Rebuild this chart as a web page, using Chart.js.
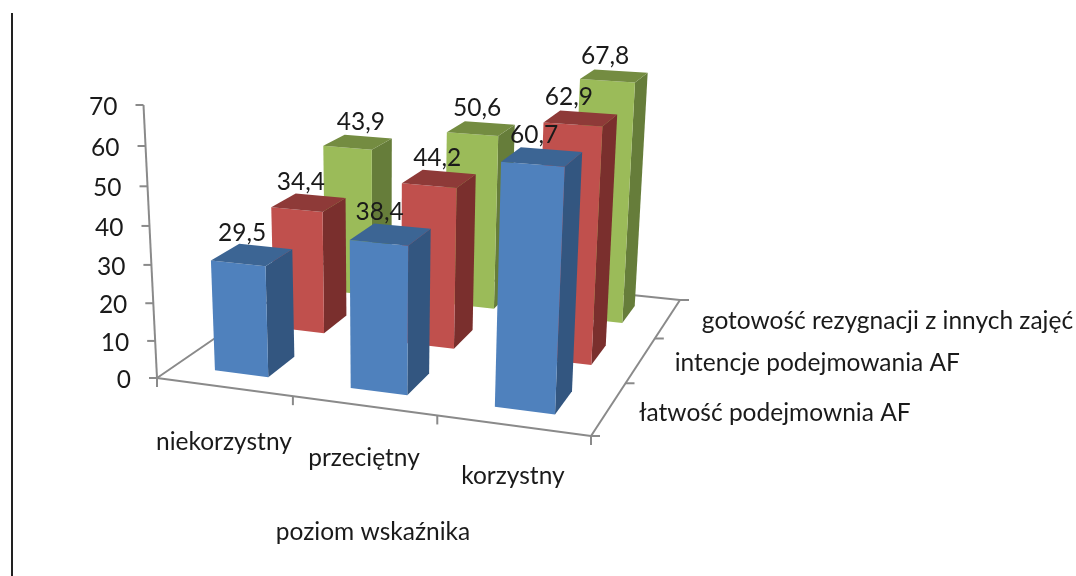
<!DOCTYPE html>
<html lang="pl">
<head>
<meta charset="utf-8">
<title>poziom wskaźnika</title>
<script src="https://cdn.jsdelivr.net/npm/chart.js@4"></script>
<style>
  body { margin: 0; background: #fff; }
  #wrap { position: relative; width: 1076px; height: 576px; overflow: hidden; }
  #rule { position: absolute; left: 11px; top: 13px; width: 2px; height: 563px; background: #222; }
  canvas { display: block; }
</style>
</head>
<body>
<div id="wrap">
  <canvas id="chart" width="1076" height="576"></canvas>
  <div id="rule"></div>
</div>
<script>
const categories = ["niekorzystny", "przeciętny", "korzystny"];
const seriesNames = ["łatwość podejmownia AF", "intencje podejmowania AF", "gotowość rezygnacji z innych zajęć"];
const latwosc = [29.5, 38.4, 60.7];
const intencje = [34.4, 44.2, 62.9];
const gotowosc = [43.9, 50.6, 67.8];
const axisTitle = "poziom wskaźnika";

const faces = [
  { front: "#4f81bd", side: "#335680", top: "#3c6594" },
  { front: "#c0504d", side: "#7a2f2d", top: "#8e3a38" },
  { front: "#9bbb59", side: "#667d3a", top: "#748c41" },
];
// excel nudged its labels around, so these are by eye
const seriesLabelDx = [30, 34, 34];
const seriesLabelDy = [5, 3, 3];
const categoryLabelDy = [55, 52, 51];
const valueLabelDx = [[-10, -11, -8], [-8, -2, -12], [3, -4, -9]];
const valueLabelDy = [-22, -21, -20];
const FONT = "24.5px Lato";
const AXIS = "#8a8a8a";
const DEPTH = 1.12;

// floor corners of the 3d box and top of the value axis, in page pixels
const O = [157, 378], U = [591, 436], UV = [680, 300], V = [324.5, 263], TOP = [143.5, 105];
const cz = -0.057;

function makeProjection() {
  const dx1 = U[0] - UV[0], dx2 = V[0] - UV[0], sx = O[0] - U[0] + UV[0] - V[0];
  const dy1 = U[1] - UV[1], dy2 = V[1] - UV[1], sy = O[1] - U[1] + UV[1] - V[1];
  const det = dx1 * dy2 - dx2 * dy1;
  const g = (sx * dy2 - dx2 * sy) / det;
  const k = (dx1 * sy - sx * dy1) / det;
  const a = U[0] - O[0] + g * U[0], b = V[0] - O[0] + k * V[0];
  const d = U[1] - O[1] + g * U[1], e = V[1] - O[1] + k * V[1];
  const az = TOP[0] * (1 + cz) - O[0], bz = TOP[1] * (1 + cz) - O[1];
  return (u, v, h) => {
    const w = g * u + k * v + cz * h + 1;
    return [(a * u + b * v + az * h + O[0]) / w, (d * u + e * v + bz * h + O[1]) / w];
  };
}
const project = makeProjection();

function poly(ctx, pts, fill) {
  ctx.beginPath();
  pts.forEach((p, i) => (i ? ctx.lineTo(p[0], p[1]) : ctx.moveTo(p[0], p[1])));
  ctx.closePath();
  ctx.fillStyle = fill;
  ctx.fill();
}

function seg(ctx, a, b) {
  ctx.beginPath();
  ctx.moveTo(a[0], a[1]);
  ctx.lineTo(b[0], b[1]);
  ctx.stroke();
}

function drawFrame(chart) {
  const ctx = chart.ctx, yScale = chart.scales.y;
  ctx.strokeStyle = AXIS;
  ctx.lineWidth = 2;
  seg(ctx, project(0, 0, 0), project(1, 0, 0));
  seg(ctx, project(1, 0, 0), project(1, 1, 0));
  seg(ctx, project(1, 1, 0), project(0, 1, 0));
  seg(ctx, project(0, 1, 0), project(0, 0, 0));
  seg(ctx, project(0, 0, 0), project(0, 0, 1));

  ctx.fillStyle = "#1a1a1a";
  ctx.font = FONT;
  ctx.textAlign = "right";
  ctx.textBaseline = "middle";
  yScale.ticks.forEach((t) => {
    const h = (yScale.bottom - yScale.getPixelForValue(t.value)) / yScale.height;
    const p = project(0, 0, h);
    seg(ctx, p, [p[0] - 8, p[1]]);
    ctx.fillText(t.label, p[0] - 26, p[1] + 2);
  });
  for (let i = 0; i <= categories.length; i++) {
    const p = project(i / categories.length, 0, 0);
    seg(ctx, p, [p[0], p[1] + 9]);
  }
  for (let j = 0; j <= seriesNames.length; j++) {
    const p = project(1, j / seriesNames.length, 0);
    seg(ctx, p, [p[0] + 9, p[1]]);
  }
}

function drawBars(chart) {
  const ctx = chart.ctx, xScale = chart.scales.x, yScale = chart.scales.y;
  for (let j = chart.data.datasets.length - 1; j >= 0; j--) {
    const c = faces[j];
    chart.getDatasetMeta(j).data.forEach((bar) => {
      const u = (bar.x - xScale.left) / xScale.width;
      const half = bar.width / 2 / xScale.width;
      const v = (j + 0.5) / seriesNames.length;
      const h = (yScale.bottom - bar.y) / yScale.height;
      const u0 = u - half, u1 = u + half, v0 = v - half * DEPTH, v1 = v + half * DEPTH;
      poly(ctx, [project(u1, v0, 0), project(u1, v1, 0), project(u1, v1, h), project(u1, v0, h)], c.side);
      poly(ctx, [project(u0, v0, 0), project(u1, v0, 0), project(u1, v0, h), project(u0, v0, h)], c.front);
      poly(ctx, [project(u0, v0, h), project(u1, v0, h), project(u1, v1, h), project(u0, v1, h)], c.top);
    });
  }
}

function drawTexts(chart) {
  const ctx = chart.ctx, xScale = chart.scales.x, yScale = chart.scales.y;
  ctx.fillStyle = "#1a1a1a";
  ctx.font = FONT;
  ctx.textBaseline = "middle";
  ctx.textAlign = "center";
  chart.data.datasets.forEach((ds, j) => {
    chart.getDatasetMeta(j).data.forEach((bar, i) => {
      const u = (bar.x - xScale.left) / xScale.width;
      const v = (j + 0.5) / seriesNames.length;
      const h = (yScale.bottom - bar.y) / yScale.height;
      const p = project(u, v, h);
      const label = String(ds.data[i]).replace(".", ",");
      ctx.fillText(label, p[0] + valueLabelDx[j][i], p[1] + valueLabelDy[j]);
    });
  });
  categories.forEach((name, i) => {
    const u = (xScale.getPixelForValue(i) - xScale.left) / xScale.width;
    const p = project(u, 0, 0);
    ctx.fillText(name, p[0], p[1] + categoryLabelDy[i]);
  });
  ctx.fillText(axisTitle, 373, 532);
  ctx.textAlign = "left";
  seriesNames.forEach((name, j) => {
    const p = project(1, (j + 0.5) / seriesNames.length, 0);
    ctx.fillText(name, p[0] + seriesLabelDx[j], p[1] + seriesLabelDy[j]);
  });
}

const box3d = {
  id: "box3d",
  beforeDatasetsDraw(chart) {
    drawFrame(chart);
    drawBars(chart);
    drawTexts(chart);
    return false;
  },
};

new Chart(document.getElementById("chart"), {
  type: "bar",
  data: {
    labels: categories,
    datasets: [
      { label: seriesNames[0], data: latwosc, backgroundColor: faces[0].front },
      { label: seriesNames[1], data: intencje, backgroundColor: faces[1].front },
      { label: seriesNames[2], data: gotowosc, backgroundColor: faces[2].front },
    ],
  },
  options: {
    responsive: false,
    animation: false,
    layout: { padding: 0 },
    plugins: { legend: { display: false }, tooltip: { enabled: false } },
    datasets: { bar: { grouped: false, categoryPercentage: 1, barPercentage: 0.4 } },
    scales: {
      x: { display: false },
      y: { display: false, min: 0, max: 70, ticks: { stepSize: 10 } },
    },
  },
  plugins: [box3d],
});
</script>
</body>
</html>
